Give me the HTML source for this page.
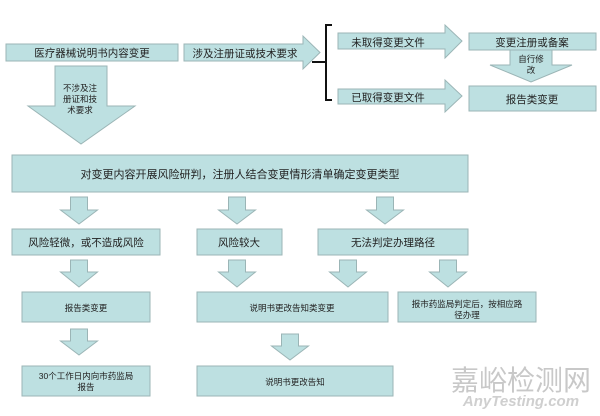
<!DOCTYPE html>
<html><head><meta charset="utf-8"><style>
body{margin:0;background:#fff}
svg{display:block}
text{font-family:"Liberation Sans","Noto Sans CJK SC",sans-serif;fill:#222}
</style></head><body>
<svg width="600" height="416" viewBox="0 0 600 416" xmlns="http://www.w3.org/2000/svg">
<g fill="#bde0e1" stroke="#9bb5b6" stroke-width="1">
<rect x="6" y="44" width="172" height="17"/>
<polygon points="184,44 303,44 303,36 320,52.5 303,69 303,61 184,61"/>
<polygon points="338,33 445,33 445,25 462,41 445,58 445,49 338,49"/>
<polygon points="338,89 445,89 445,80 462,96 445,112 445,104 338,104"/>
<rect x="469" y="33" width="127" height="17"/>
<rect x="469" y="86" width="127" height="25"/>
<polygon points="510,50 552,50 552,65 572,65 531,82 490,65 510,65"/>
<polygon points="55,66 107,66 107,106 135,106 81,144 28,106 55,106"/>
<rect x="12" y="155" width="456" height="37"/>
<!-- row1 arrows -->
<polygon points="70.5,197 87.5,197 87.5,210 97.5,210 79,224 60.5,210 70.5,210"/>
<polygon points="228.5,197 245.5,197 245.5,210 255.5,210 237,224 218.5,210 228.5,210"/>
<polygon points="376.5,197 393.5,197 393.5,210 403.5,210 385,224 366.5,210 376.5,210"/>
<rect x="12" y="229" width="148" height="26"/>
<rect x="197" y="229" width="85" height="26"/>
<rect x="318" y="229" width="150" height="26"/>
<!-- row2 arrows -->
<polygon points="70.5,260 87.5,260 87.5,272 97.5,272 79,287 60.5,272 70.5,272"/>
<polygon points="228.5,260 245.5,260 245.5,272 255.5,272 237,287 218.5,272 228.5,272"/>
<polygon points="339.5,260 356.5,260 356.5,272 366.5,272 348,287 329.5,272 339.5,272"/>
<polygon points="439.5,260 456.5,260 456.5,272 466.5,272 448,287 429.5,272 439.5,272"/>
<rect x="22" y="292" width="128" height="30"/>
<rect x="197" y="292" width="191" height="30"/>
<rect x="398" y="292" width="138" height="30"/>
<!-- row3 arrows -->
<polygon points="70.5,329 87.5,329 87.5,341 97.5,341 79,355 60.5,341 70.5,341"/>
<polygon points="281.5,334 298.5,334 298.5,346 308.5,346 290,360 271.5,346 281.5,346"/>
<rect x="22" y="366" width="128" height="30"/>
<rect x="197" y="366" width="196" height="30"/>
</g>
<path d="M332,25 H326 V100 H332 M312,62 H326" fill="none" stroke="#111" stroke-width="2"/>
<g font-size="10.5" text-anchor="middle">
<text x="92" y="56.5">医疗器械说明书内容变更</text>
<text x="245" y="57">涉及注册证或技术要求</text>
<text x="388" y="46">未取得变更文件</text>
<text x="388" y="101">已取得变更文件</text>
<text x="532" y="46">变更注册或备案</text>
<text x="532" y="103">报告类变更</text>
<text x="240" y="178" font-size="11">对变更内容开展风险研判，注册人结合变更情形清单确定变更类型</text>
<text x="86" y="246">风险轻微，或不造成风险</text>
<text x="239" y="246">风险较大</text>
<text x="393" y="246">无法判定办理路径</text>
</g>
<g font-size="8.5" text-anchor="middle">
<text x="80" y="91">不涉及注</text>
<text x="80" y="102">册证和技</text>
<text x="80" y="113">术要求</text>
<text x="531" y="62">自行修</text>
<text x="531" y="73">改</text>
<text x="86" y="311">报告类变更</text>
<text x="292" y="311">说明书更改告知类变更</text>
<text x="467" y="307">报市药监局判定后，按相应路</text>
<text x="467" y="318">径办理</text>
<text x="86" y="379">30个工作日内向市药监局</text>
<text x="86" y="390">报告</text>
<text x="295" y="385">说明书更改告知</text>
</g>
<text x="521" y="390" font-size="28" text-anchor="middle" style="fill:#c8c8c8">嘉峪检测网</text>
<text x="521" y="406" font-size="15" font-style="italic" font-weight="bold" text-anchor="middle" style="fill:#cfcfcf">AnyTesting.com</text>
</svg>
</body></html>
